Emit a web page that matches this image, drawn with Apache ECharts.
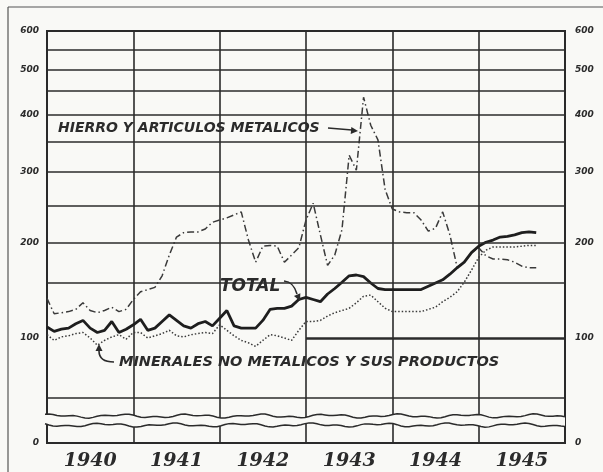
<!DOCTYPE html>
<html>
<head>
<meta charset="utf-8">
<script src="https://cdn.jsdelivr.net/npm/echarts@6/dist/echarts.min.js"></script>
<style>
html,body{margin:0;padding:0;background:#f9f9f6;}
#c{width:603px;height:472px;}
</style>
</head>
<body>
<div id="c"></div>
<script>
// ---- data (monthly index numbers, Jan 1940 .. Sep 1945) ----
const years = ["1940","1941","1942","1943","1944","1945"];
const tickValues = [0,100,200,300,400,500,600];
const tickLabels = ["0","100","200","300","400","500","600"];
const gridValues = [50,150,200,250,300,350,400,450,500,550,600];

const total = [110,106,108,109,113,116,109,105,107,115,105,108,
               112,117,107,109,115,121,116,111,109,113,115,111,
               118,125,111,109,109,109,116,126,127,127,129,135,
               137,135,133,140,145,151,159,160,158,150,145,144,
               144,144,144,144,144,147,150,154,161,169,176,188,
               196,201,204,208,209,211,214,215,214];

const hierro = [136,122,123,124,126,132,125,123,125,128,124,126,
                135,142,144,146,159,185,208,214,215,215,219,228,
                231,234,238,242,204,176,196,197,196,176,185,194,
                231,254,211,172,185,218,328,303,437,381,354,274,
                246,242,241,241,231,216,220,242,211,170,176,188,
                194,184,180,180,179,176,171,169,169];

const minerales = [103,98,101,102,104,105,100,94,98,101,103,99,
                   105,105,100,102,104,107,102,101,103,104,105,104,
                   112,107,102,98,96,93,98,103,102,100,98,107,
                   115,115,116,120,123,125,127,132,138,139,133,127,
                   124,124,124,124,124,126,128,133,137,142,151,166,
                   182,191,195,195,195,195,196,197,197];

// ---- custom (hand-drawn, non-uniform) vertical scale of the original ----
const scaleStops = [[0,0],[50,45],[100,105],[150,160],[200,200],[250,237],[300,271],
                    [350,301],[400,328],[450,352],[500,373],[550,393],[600,412]];
function pos(v){
  for(let i=1;i<scaleStops.length;i++){
    const a=scaleStops[i-1], b=scaleStops[i];
    if(v<=b[0]) return a[1]+(v-a[0])*(b[1]-a[1])/(b[0]-a[0]);
  }
  return scaleStops[scaleStops.length-1][1];
}
function labelAt(p){
  for(let i=0;i<tickValues.length;i++){ if(Math.abs(pos(tickValues[i])-p)<0.5) return tickLabels[i]; }
  return '';
}
const toXY = arr => arr.map((v,i)=>[i,pos(v)]);

const INK='#2b2b2b';
const chart = echarts.init(document.getElementById('c'), null, {renderer:'canvas'});
const yAxisBase = side => ({
  type:'value', min:0, max:412, position:side,
  axisLine:{show:false}, axisTick:{show:false}, splitLine:{show:false},
  axisLabel:{
    customValues: tickValues.map(v=>pos(v)),
    formatter: v=>labelAt(v),
    margin: side==='left'?8:10,
    color:INK, fontFamily:'DejaVu Sans', fontStyle:'italic', fontWeight:'bold', fontSize:9
  }
});

const gridMarks = gridValues.map(v=>({yAxis:pos(v)}));
gridMarks.push([{coord:[36,pos(100)],lineStyle:{width:2.6}},{coord:[72,pos(100)]}]);

const option = {
  backgroundColor:'#f9f9f6',
  animation:false,
  grid:{left:47,right:38,top:31,bottom:29,show:true,borderColor:INK,borderWidth:2,backgroundColor:'transparent'},
  xAxis:{
    type:'value', min:0, max:72, interval:12,
    axisLine:{show:false}, axisTick:{show:false},
    splitLine:{show:true,lineStyle:{color:INK,width:1.6}},
    axisLabel:{
      customValues:[6,18,30,42,54,66],
      formatter:v=>years[Math.floor(v/12)],
      margin:9, color:INK, fontFamily:'DejaVu Serif', fontStyle:'italic', fontWeight:'bold', fontSize:19
    }
  },
  yAxis:[yAxisBase('left'), yAxisBase('right')],
  series:[
    {type:'line', data:[], silent:true, z:1,
     markLine:{silent:true, symbol:['none','none'], label:{show:false},
       lineStyle:{color:INK,width:1.6,type:'solid'},
       data: gridMarks}},
    {name:'HIERRO', type:'line', data:toXY(hierro), showSymbol:false, z:3,
     lineStyle:{color:'#3a3a3a',width:1.5,type:[7,3,1.5,3]}},
    {name:'MINERALES', type:'line', data:toXY(minerales), showSymbol:false, z:3,
     lineStyle:{color:'#3a3a3a',width:1.5,type:[1.5,2]}},
    {name:'TOTAL', type:'line', data:toXY(total), showSymbol:false, z:4,
     lineStyle:{color:'#1e1e1e',width:2.8}}
  ]
};
chart.setOption(option);

// ---- decorations: scale-break, outer frame, annotations ----
const p = (x,y)=>chart.convertToPixel({gridIndex:0},[x,y]);
const L = p(0,0)[0], R = p(72,0)[0];
const yUp = p(0,27)[1], yLo = p(0,18)[1];
function wave(y0, ph){
  const pts=[];
  for(let x=L-2;x<=R+2;x+=4){
    pts.push([x, y0 + 1.3*Math.sin((x+ph)/11) + 0.9*Math.sin((x+ph*2)/4.3)]);
  }
  return pts;
}
const up = wave(yUp,0), lo = wave(yLo,17);
const poly = up.concat(lo.slice().reverse());

function arrowHead(tip, from, size){
  const dx=tip[0]-from[0], dy=tip[1]-from[1], d=Math.hypot(dx,dy), ux=dx/d, uy=dy/d;
  return {type:'polygon', shape:{points:[tip,[tip[0]-ux*size-uy*size*0.5, tip[1]-uy*size+ux*size*0.5],[tip[0]-ux*size+uy*size*0.5, tip[1]-uy*size-ux*size*0.5]]}, style:{fill:INK}, z:20};
}
const txt = (x,y,s,fs)=>({type:'text', x:x, y:y, z:20, style:{text:s, fill:INK, font:'italic bold '+fs+'px "DejaVu Sans"', textVerticalAlign:'middle'}});

chart.setOption({graphic:[
  {type:'polygon', shape:{points:poly}, style:{fill:'#f9f9f6', stroke:null}, z:10},
  {type:'polyline', shape:{points:up}, style:{stroke:INK, lineWidth:1.5, fill:null}, z:11},
  {type:'polyline', shape:{points:lo}, style:{stroke:INK, lineWidth:1.5, fill:null}, z:11},
  {type:'line', shape:{x1:8,y1:7,x2:603,y2:7}, style:{stroke:'#555',lineWidth:1.2}, z:11},
  {type:'line', shape:{x1:8,y1:7,x2:8,y2:472}, style:{stroke:'#555',lineWidth:1.2}, z:11},
  txt(58,128,'HIERRO Y ARTICULOS METALICOS',14),
  {type:'line', shape:{x1:328,y1:128,x2:352,y2:130}, style:{stroke:INK,lineWidth:1.5}, z:20},
  arrowHead([358,131],[340,129.5],7),
  txt(220,287,'TOTAL',17),
  {type:'bezierCurve', shape:{x1:284,y1:281,x2:297,y2:294,cpx1:292,cpy1:282,cpx2:295,cpy2:287}, style:{stroke:INK,lineWidth:1.6,fill:null}, z:20},
  arrowHead([300,301],[296,292],7),
  txt(119,362,'MINERALES NO METALICOS Y SUS PRODUCTOS',14.5),
  {type:'bezierCurve', shape:{x1:114,y1:362,x2:99,y2:351,cpx1:104,cpy1:362,cpx2:99,cpy2:358}, style:{stroke:INK,lineWidth:1.6,fill:null}, z:20},
  arrowHead([99,344],[99,352],7)
]});
</script>
</body>
</html>
